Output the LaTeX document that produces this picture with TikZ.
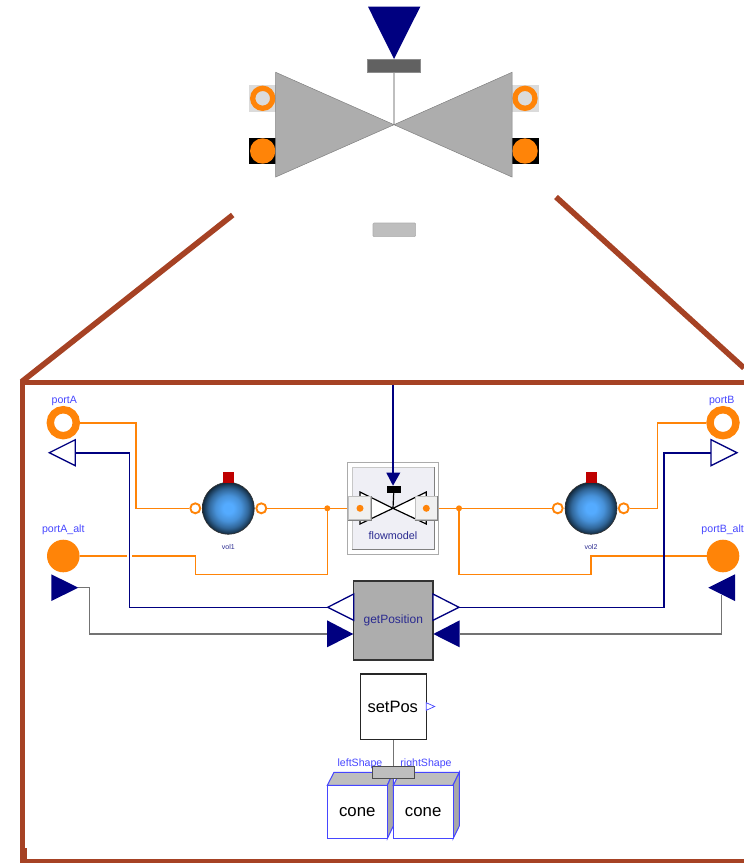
\documentclass[tikz,border=0pt]{standalone}
\usepackage{fontspec}
\setmainfont{Liberation Sans}
\definecolor{brownl}{HTML}{A64224}
\definecolor{orng}{HTML}{FF8408}
\definecolor{nvy}{HTML}{000080}
\definecolor{lblue}{HTML}{4646FF}
\definecolor{conegray}{HTML}{ADADAD}
\definecolor{bargray}{HTML}{BEBEBE}
\definecolor{txtnavy}{HTML}{2A2A90}
\definecolor{panel}{HTML}{EFEFF5}
\definecolor{sidegray}{HTML}{A8A8A8}
\pgfdeclareradialshading{ballshade}{\pgfpoint{0bp}{0bp}}{
 rgb(0bp)=(0.33,0.67,1);
 rgb(5bp)=(0.33,0.67,1);
 rgb(12.5bp)=(0.28,0.57,0.85);
 rgb(19bp)=(0.19,0.40,0.60);
 rgb(23.5bp)=(0.10,0.22,0.33);
 rgb(25bp)=(0.07,0.15,0.22);
 rgb(50bp)=(0.07,0.15,0.22)}
\tikzset{
 frameline/.style={draw=brownl,line width=5pt,line cap=butt},
 diagline/.style={draw=brownl,line width=5.6pt,line cap=butt},
 oline/.style={draw=orng,line width=1.6pt},
 nline/.style={draw=nvy,line width=1.6pt},
 gline/.style={draw=black!55,line width=1.2pt},
 lbl/.style={text=lblue,font=\fontsize{10.6}{12}\selectfont,inner sep=0pt},
 ringport/.style={circle,draw=orng,fill=white,inner sep=0pt,line width=7.4pt,minimum size=26pt,outer sep=3.7pt},
 solidport/.style={circle,fill=orng,inner sep=0pt,minimum size=32.6pt},
 smallring/.style={circle,draw=orng,fill=white,inner sep=0pt,line width=1.9pt,minimum size=10pt},
 iconring/.style={circle,draw=orng,fill=black!14,inner sep=0pt,line width=5.3pt,minimum size=20pt},
 icondisc/.style={circle,fill=orng,inner sep=0pt,minimum size=25.4pt},
 sphere/.style={circle,draw=black!80,inner sep=0pt,minimum size=52pt,line width=0.6pt,shading=ballshade},
 junction/.style={circle,fill=orng,inner sep=0pt,minimum size=6pt},
 plainbox/.style={rectangle,inner sep=0pt},
 bevel/.style={rectangle,inner sep=0pt,fill=panel,draw=black!22,line width=1pt},
 hollowtri/.style={draw=nvy,fill=white,line width=1.3pt,line join=miter},
 solidtri/.style={fill=nvy,draw=none},
 conefront/.style={draw=lblue,fill=white,line width=1pt},
 conetop/.style={draw=lblue,fill=bargray,line width=1pt},
 coneside/.style={draw=lblue,fill=sidegray,line width=1pt},
}
\begin{document}
\begin{tikzpicture}[x=1pt,y=-1pt]
\useasboundingbox (0,0) rectangle (744,863);
% ---------- top icon
\node[plainbox,fill=black!14,minimum width=26.4pt,minimum height=27pt] (iconLbg) at (262.5,98.5) {};
\node[plainbox,fill=black!14,minimum width=26.7pt,minimum height=27pt] (iconRbg) at (525.3,98.5) {};
\node[plainbox,fill=black,minimum width=26.4pt,minimum height=26.4pt] (iconLblk) at (262.5,151) {};
\node[plainbox,fill=black,minimum width=26.7pt,minimum height=26.4pt] (iconRblk) at (525.3,151) {};
\node[iconring] (iconLring) at (262.7,98.3) {};
\node[iconring] (iconRring) at (525,98.3) {};
\node[icondisc] (iconLdisc) at (262.7,151) {};
\node[icondisc] (iconRdisc) at (525,151) {};
\coordinate (iconC) at (394,124.7);
\node[plainbox,fill=black!62,draw=black!45,line width=0.5pt,minimum width=52.6pt,minimum height=13.3pt] (iconAct) at (394,65.7) {};
\draw[draw=black!25,line width=1.3pt] (iconAct.south) -- (iconC);
\fill[conegray,draw=black!50,line width=0.5pt] (275.7,72.3) -- (iconC) -- (275.7,177) -- cycle;
\fill[conegray,draw=black!50,line width=0.5pt] (512,72.3) -- (iconC) -- (512,177) -- cycle;
\fill[nvy] (368,6.7) -- (420.3,6.7) -- (394,59) -- cycle;
\node[plainbox,fill=bargray,draw=black!32,line width=0.6pt,rounded corners=1pt,minimum width=42.6pt,minimum height=13.6pt] (iconBar) at (394.3,229.8) {};
% ---------- brown frame
\draw[diagline] (232.7,215) -- (21.7,381.7);
\draw[diagline] (556,197) -- (744,368);
\draw[frameline] (744,382.8) -- (22.5,382.8) -- (22.5,861.6) -- (744,861.6);
\fill[brownl] (20,848) rectangle (26.7,863);
% ---------- ports
\node[ringport] (portA) at (63.3,422.7) {};
\node[ringport] (portB) at (723,422.7) {};
\node[solidport] (portAalt) at (63.3,556) {};
\node[solidport] (portBalt) at (723,556) {};
\node[lbl,anchor=center] (portAlbl) at (64.3,400.8) {portA};
\node[lbl,anchor=center] (portBlbl) at (721.7,400.8) {portB};
\node[lbl,anchor=center] (portAaltlbl) at (63.3,530) {portA\_alt};
\node[lbl,anchor=center] (portBaltlbl) at (722.7,530) {portB\_alt};
% ---------- volumes
\node[sphere] (vol1) at (228.3,508.3) {};
\node[sphere] (vol2) at (591,508.3) {};
\node[plainbox,fill=red!75!black,minimum width=10.7pt,minimum height=11pt] (vol1h) at (228.6,477.2) {};
\node[plainbox,fill=red!75!black,minimum width=10.7pt,minimum height=11pt] (vol2h) at (591.3,477.2) {};
\node[smallring] (vol1L) at (195.3,508.3) {};
\node[smallring] (vol1R) at (261.3,508.3) {};
\node[smallring] (vol2L) at (557.7,508.3) {};
\node[smallring] (vol2R) at (623.7,508.3) {};
\node[text=txtnavy,font=\fontsize{7}{8}\selectfont,inner sep=0pt] (vol1lbl) at (228.3,547) {vol1};
\node[text=txtnavy,font=\fontsize{7}{8}\selectfont,inner sep=0pt] (vol2lbl) at (591,547) {vol2};
% ---------- getPosition and junctions
\node[junction] (jL) at (327.3,508.3) {};
\node[junction] (jR) at (459,508.3) {};
\node[plainbox,fill=conegray,draw=black!80,line width=1.3pt,minimum width=79.5pt,minimum height=79pt,text=txtnavy,font=\fontsize{12}{14}\selectfont] (getPos) at (393.3,620.4) {\raisebox{-2pt}{getPosition}};
% triangle end coordinates
\coordinate (inA) at (75.3,452.7);
\coordinate (inB) at (711,452.7);
\coordinate (gpL) at (327.7,607.3);
\coordinate (gpR) at (459,607.3);
\coordinate (gpLs) at (327,634);
\coordinate (gpRs) at (459.7,634);
\coordinate (tA) at (78.3,587.7);
\coordinate (tB) at (721.7,595);
% ---------- connectors
\draw[oline] (portA.east) -| (136,508.3) -- (vol1L.west);
\draw[oline] (vol1R.east) -- (jL.center) -- (349,508.3);
\draw[oline] (jL.center) |- (195.3,574.3) |- (132,556);
\draw[oline] (127.2,556) -- (portAalt.east);
\draw[oline] (437,508.3) -- (jR.center) -- (vol2L.west);
\draw[oline] (jR.center) |- (591,574.3) |- (666,556);
\draw[oline] (661,556) -- (portBalt.west);
\draw[oline] (vol2R.east) -| (657.3,422.7) -- (portB.west);
\draw[nline] (inA) -| (129.3,607.3) -- (gpL);
\draw[nline] (inB) -| (663.7,607.3) -- (gpR);
\draw[gline] (tA) -| (89.3,634) -- (gpLs);
\draw[gline] (tB) |- (gpRs);
% ---------- port triangles
\draw[hollowtri] (49.3,452.7) -- (75.3,439.7) -- (75.3,465.7) -- cycle;
\draw[hollowtri] (737,452.7) -- (711,439.7) -- (711,465.7) -- cycle;
\fill[solidtri] (51.3,574.3) -- (78.3,587.7) -- (51.3,601) -- cycle;
\fill[solidtri] (735,574.3) -- (708.3,587.7) -- (735,601) -- cycle;
\draw[hollowtri] (327.7,607.3) -- (353.7,594) -- (353.7,620.3) -- cycle;
\draw[hollowtri] (459,607.3) -- (433,594) -- (433,620.3) -- cycle;
\fill[solidtri] (327,620.3) -- (353.3,634) -- (327,647.3) -- cycle;
\fill[solidtri] (459.7,620.3) -- (433.3,634) -- (459.7,647.3) -- cycle;
% ---------- flowmodel
\node[plainbox,fill=white,draw=black!33,line width=1pt,minimum width=91.4pt,minimum height=91.6pt] (fmOuter) at (393,508.5) {};
\node[bevel,minimum width=81.7pt,minimum height=81.6pt] (fmInner) at (393.2,508.5) {};
\draw[draw=black!50,line width=1pt] (fmInner.south west) -- (fmInner.south east) -- (fmInner.north east);
\coordinate (fmC) at (393,508.3);
\draw[fill=white,draw=black,line width=1.2pt] (360,492) -- (fmC) -- (360,524) -- cycle;
\draw[fill=white,draw=black,line width=1.2pt] (426.3,492) -- (fmC) -- (426.3,524) -- cycle;
\node[plainbox,fill=black,minimum width=14pt,minimum height=7.3pt] (fmAct) at (393.7,489.4) {};
\draw[draw=black,line width=1.2pt] (fmAct.south) -- (fmC);
\node[bevel,fill=black!6,draw=black!25,minimum width=21.7pt,minimum height=22.7pt] (fmPL) at (359.8,508.3) {};
\node[bevel,fill=black!6,draw=black!25,minimum width=22pt,minimum height=22.7pt] (fmPR) at (426,508.3) {};
\draw[draw=black!50,line width=0.9pt] (fmPL.south west) -- (fmPL.south east) -- (fmPL.north east);
\draw[draw=black!50,line width=0.9pt] (fmPR.south west) -- (fmPR.south east) -- (fmPR.north east);
\node[circle,fill=orng,inner sep=0pt,minimum size=7pt] (fmDL) at (360,508.3) {};
\node[circle,fill=orng,inner sep=0pt,minimum size=7pt] (fmDR) at (426.3,508.3) {};
\node[text=txtnavy,font=\fontsize{10.8}{13}\selectfont,inner sep=0pt] (fmlbl) at (393,535.7) {flowmodel};
\coordinate (fmTop) at (393,385);
\draw[nline] (fmTop) -- (393,473);
\fill[solidtri] (386.3,472.7) -- (400.3,472.7) -- (393,485.7) -- cycle;
% ---------- setPos and cones
\node[lbl,anchor=center] (lsLbl) at (360,763.6) {leftShape};
\node[lbl,anchor=center] (rsLbl) at (426,763.6) {rightShape};
\path[conetop] (327.3,785.3) -- (334,772.3) -- (393.3,772.3) -- (387.3,785.3) -- cycle;
\path[coneside] (387.3,785.3) -- (393.3,772.3) -- (393.3,826) -- (387.3,838.7) -- cycle;
\node[plainbox,conefront,minimum width=60pt,minimum height=53.4pt,font=\fontsize{16.8}{19}\selectfont] (coneL) at (357.3,812) {\raisebox{-1.5pt}{cone}};
\path[conetop] (393.3,785.3) -- (400,772.3) -- (459.3,772.3) -- (453,785.3) -- cycle;
\path[coneside] (453,785.3) -- (459.3,772.3) -- (459.3,826) -- (453,838.7) -- cycle;
\node[plainbox,conefront,minimum width=59.7pt,minimum height=53.4pt,font=\fontsize{16.8}{19}\selectfont] (coneR) at (423.2,812) {\raisebox{-1.5pt}{cone}};
\node[plainbox,fill=white,draw=black!85,line width=1.3pt,minimum width=65.6pt,minimum height=65.3pt,font=\fontsize{16.5}{19}\selectfont] (setPos) at (393.5,706.7) {\hspace*{-1.5pt}\raisebox{0.5pt}{setPos}};
\node[plainbox,fill=bargray,draw=black!70,line width=0.8pt,minimum width=42.4pt,minimum height=12.4pt] (posBar) at (393.5,772.5) {};
\draw[draw=black!55,line width=1.4pt] (setPos.south) -- (posBar.north);
\draw[draw=lblue,fill=white,line width=0.7pt] (426.2,702.7) -- (434.7,706.5) -- (426.2,710.3) -- cycle;
\end{tikzpicture}
\end{document}
